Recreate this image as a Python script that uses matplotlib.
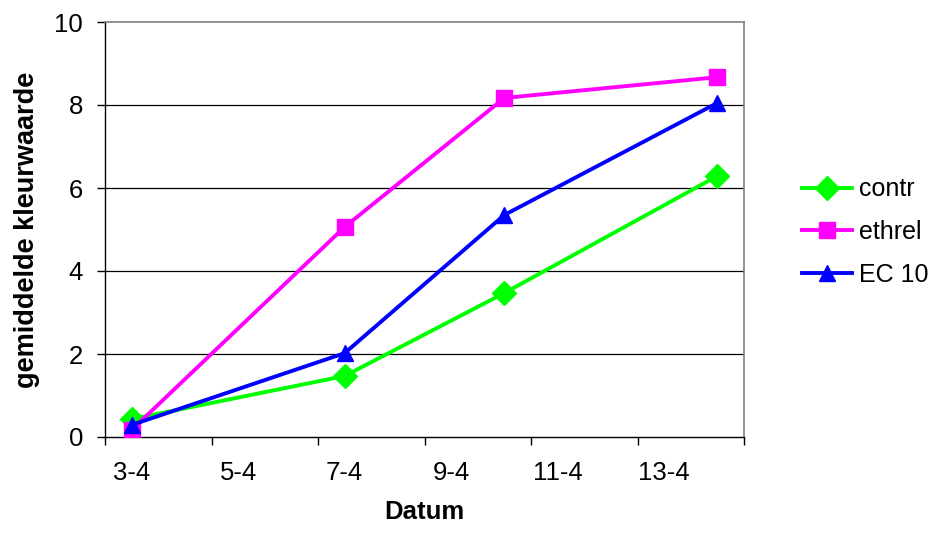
import matplotlib
matplotlib.use("Agg")
import matplotlib.pyplot as plt
from matplotlib.ticker import FixedLocator, NullFormatter, FixedFormatter

plt.rcParams['font.family'] = ['Liberation Sans', 'DejaVu Sans']

# data (day of April)
days = [3, 7, 10, 14]
contr = [0.43, 1.47, 3.47, 6.29]
ethrel = [0.17, 5.06, 8.17, 8.67]
ec10 = [0.29, 2.02, 5.35, 8.05]
tick_days = [3, 5, 7, 9, 11, 13]
tick_labels = ["3-4", "5-4", "7-4", "9-4", "11-4", "13-4"]

fig = plt.figure(figsize=(9.37, 5.34), dpi=100)
ax = fig.add_axes([105/937, 1-437/534, (744-105)/937, (437-22)/534])

ax.plot(days, contr, color='#00FF00', lw=2.8, marker='D', ms=12, label='contr', zorder=3)
ax.plot(days, ethrel, color='#FF00FF', lw=2.8, marker='s', ms=12, label='ethrel', zorder=3)
ax.plot(days, ec10, color='#0000FF', lw=2.8, marker='^', ms=11.5, label='EC 10', zorder=4)

ax.set_xlim(2.5, 14.5)
ax.set_ylim(0, 10)
ax.set_yticks([0, 2, 4, 6, 8, 10])
for y in [2, 4, 6, 8]:
    ax.axhline(y, color='black', lw=0.9, zorder=1)

ax.xaxis.set_major_locator(FixedLocator([2.5, 4.5, 6.5, 8.5, 10.5, 12.5, 14.5]))
ax.xaxis.set_major_formatter(NullFormatter())
ax.xaxis.set_minor_locator(FixedLocator(tick_days))
ax.xaxis.set_minor_formatter(FixedFormatter(tick_labels))
ax.tick_params(axis='x', which='major', direction='out', length=5.8, width=1)
ax.tick_params(axis='x', which='minor', length=0, pad=17, labelsize=18.5)
ax.tick_params(axis='y', direction='out', length=5.8, width=1, labelsize=18.5, pad=10)

for s in ['left', 'bottom']:
    ax.spines[s].set_color('black')
    ax.spines[s].set_linewidth(1)
for s in ['top', 'right']:
    ax.spines[s].set_color('#808080')
    ax.spines[s].set_linewidth(1.2)

ax.set_xlabel('Datum', fontsize=18.5, fontweight='bold', labelpad=11)
ax.set_ylabel('gemiddelde kleurwaarde', fontsize=19.5, fontweight='bold', labelpad=10)

ax.legend(loc='center left', bbox_to_anchor=(802/937, 1-232/534), bbox_transform=fig.transFigure,
          frameon=False, fontsize=18, handlelength=2.0, handletextpad=0.3,
          labelspacing=0.75, borderaxespad=0, borderpad=0)

fig.savefig('out.png', dpi=100)
